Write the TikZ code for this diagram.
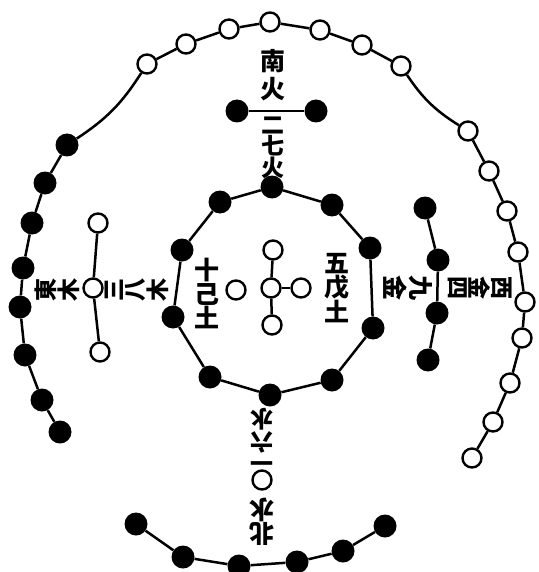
\documentclass[tikz,border=0pt]{standalone}
\usepackage{fontspec}
\newfontfamily\cjk{Noto Sans CJK SC}
\tikzset{
  bdot/.style={circle, fill=black, minimum size=23pt, inner sep=0pt},
  wdot/.style={circle, draw, line width=2.4pt, fill=white, minimum size=19pt, inner sep=0pt},
  link/.style={line width=2.5pt},
  lbl/.style={font=\cjk\bfseries\fontsize{25}{24}\selectfont, align=center, inner sep=0pt},
  tight/.style={font=\cjk\bfseries\fontsize{23}{21}\selectfont}
}
\begin{document}
\begin{tikzpicture}[x=1pt, y=-1pt]
  \useasboundingbox (0,0) rectangle (538,572);
  % outer ring: 8 black, 7 + 9 white
  \foreach \n/\p in {1/{60,432},2/{42,400},3/{25,355},4/{20,307},5/{23,268},6/{32,223},7/{45,183},8/{67,145}}
    \node[bdot] (lb\n) at (\p) {};
  \foreach \n/\p in {1/{147,64},2/{186,44},3/{229,29},4/{270,22},5/{320,30},6/{362,45},7/{401,66}}
    \node[wdot] (tw\n) at (\p) {};
  \foreach \n/\p in {1/{468,131},2/{489,171},3/{507,211},4/{518,252},5/{525,302},6/{522,338},7/{510,383},8/{493,422},9/{472,458}}
    \node[wdot] (rw\n) at (\p) {};
  \foreach \n/\p in {1/{136,524},2/{183,557},3/{239,566},4/{297,562},5/{343,551},6/{385,526}}
    \node[bdot] (bb\n) at (\p) {};
  \foreach \a/\b in {1/2,2/3,3/4,4/5,5/6,6/7,7/8} \draw[link] (lb\a) -- (lb\b);
  \foreach \a/\b in {1/2,2/3,3/4,4/5,5/6,6/7} \draw[link] (tw\a) -- (tw\b);
  \foreach \a/\b in {1/2,2/3,3/4,4/5,5/6,6/7,7/8,8/9} \draw[link] (rw\a) -- (rw\b);
  \foreach \a/\b in {1/2,2/3,3/4,4/5,5/6} \draw[link] (bb\a) -- (bb\b);
  \draw[link] (lb8) to[bend right=12] (tw1);
  \draw[link] (tw7) to[bend right=12] (rw1);
  % inner arms
  \node[bdot] (tb1) at (237,111) {};
  \node[bdot] (tb2) at (316,111) {};
  \draw[link] (tb1) -- (tb2);
  \foreach \n/\p in {1/{98,223},2/{93,288},3/{100,352}}
    \node[wdot] (lw\n) at (\p) {};
  \draw[link] (lw1) -- (lw2) -- (lw3);
  \foreach \n/\p in {1/{425,208},2/{438,260},3/{437,313},4/{428,360}}
    \node[bdot] (rb\n) at (\p) {};
  \draw[link] (rb1) -- (rb2) -- (rb3) -- (rb4);
  \node[wdot] (bw) at (262,480) {};
  % centre
  \foreach \n/\p in {1/{272,187},2/{332,205},3/{370,248},4/{373,328},5/{332,380},6/{270,395},7/{210,377},8/{173,317},9/{182,250},10/{220,202}}
    \node[bdot] (cb\n) at (\p) {};
  \foreach \a/\b in {1/2,2/3,3/4,4/5,5/6,6/7,7/8,8/9,9/10,10/1} \draw[link] (cb\a) -- (cb\b);
  \node[wdot] (cwt) at (273,250) {};
  \node[wdot] (cwc) at (271,288) {};
  \node[wdot] (cwr) at (301,288) {};
  \node[wdot] (cwb) at (272,325) {};
  \node[wdot] (cwl) at (236,290) {};
  \draw[link] (cwt) -- (cwc) -- (cwb);
  \draw[link] (cwc) -- (cwr);
  % labels
  \node[lbl, font=\cjk\bfseries\fontsize{25}{28}\selectfont] (south1) at (273,75) {南\\火};
  \node[lbl, tight] (south2) at (273,148) {二\\七\\火};
  \node[lbl, rotate=180] (north1) at (262,522) {北\\水};
  \node[lbl, tight, rotate=180] (north2) at (262,437) {一\\六\\水};
  \node[lbl, tight, rotate=90] (east1) at (57,290) {東\\木};
  \node[lbl, tight, rotate=90] (east2) at (137,290) {三\\八\\木};
  \node[lbl, tight, rotate=-90] (west1) at (480,288) {西\\金\\四};
  \node[lbl, rotate=-90] (west2) at (408,288) {九\\金};
  \node[lbl] (mid1) at (207,293) {十\\己\\土};
  \node[lbl] (mid2) at (337,288) {五\\戊\\土};
\end{tikzpicture}
\end{document}
